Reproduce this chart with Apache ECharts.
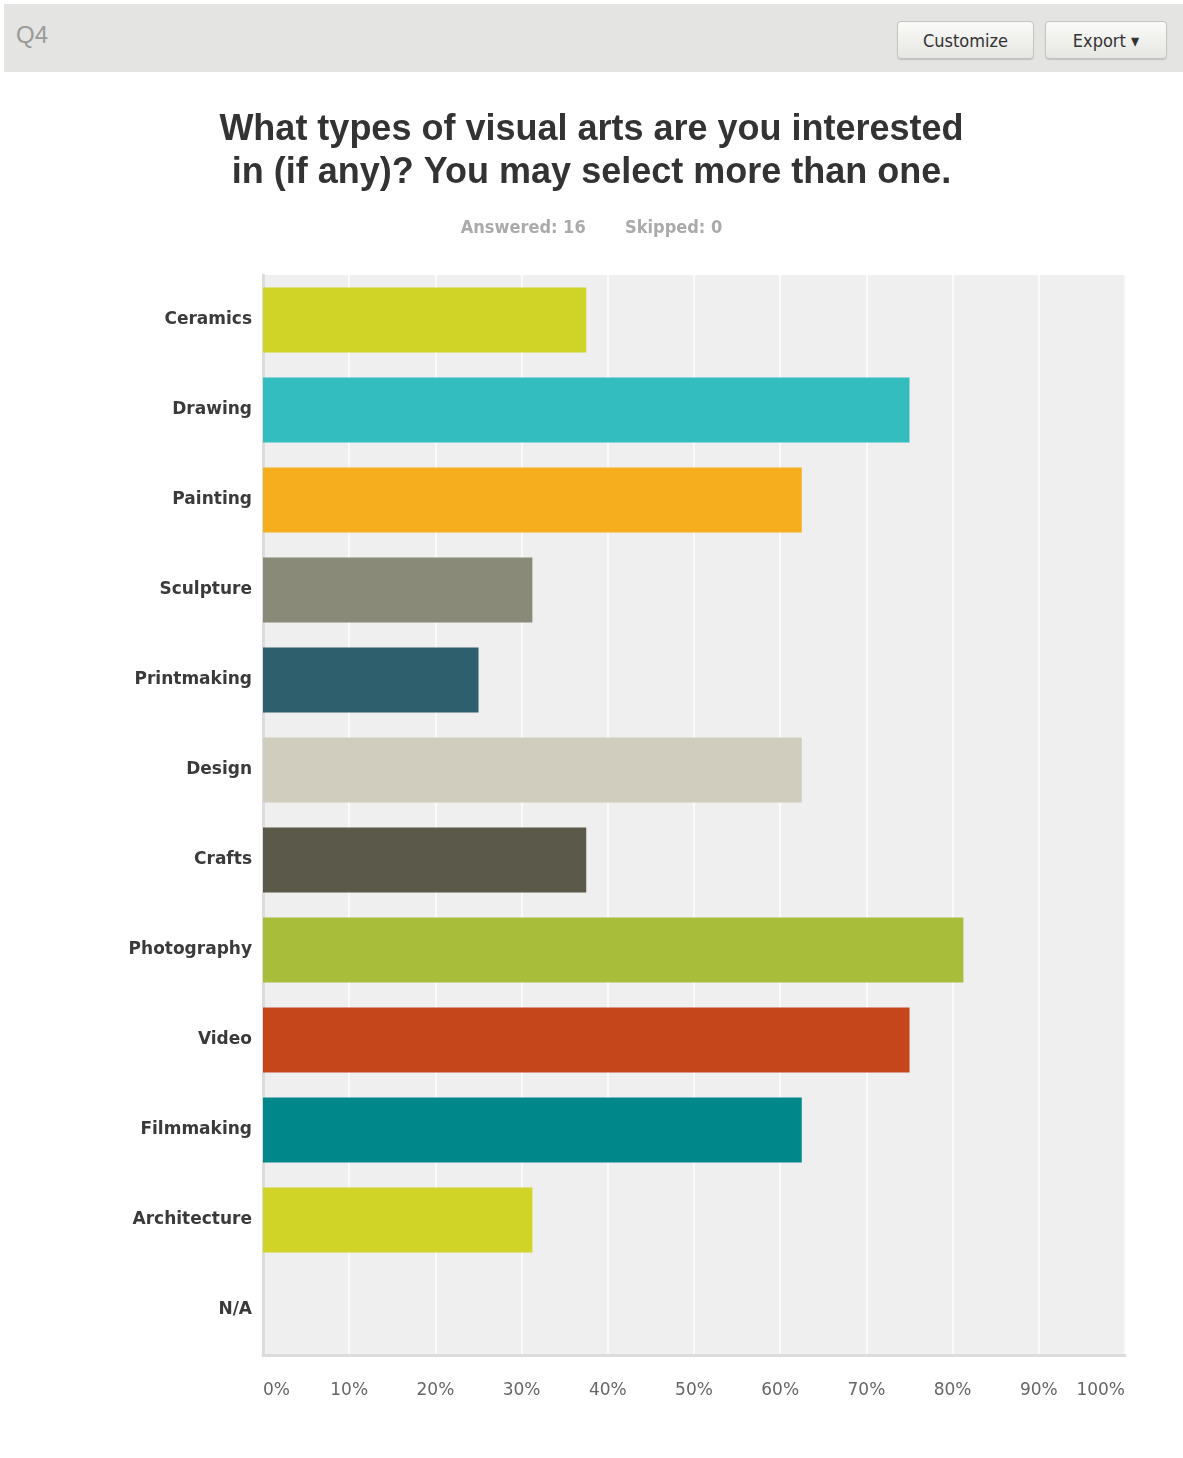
<!DOCTYPE html>
<html>
<head>
<meta charset="utf-8">
<script src="https://cdn.jsdelivr.net/npm/echarts@6/dist/echarts.min.js"></script>
<style>
	html, body { margin: 0; padding: 0; background: #fff; }
	#wrap { position: relative; width: 1183px; height: 1458px; }
	#chart { position: absolute; left: 0; top: 0; width: 1183px; height: 1458px; }
	#bar { position: absolute; left: 4px; top: 4px; width: 1179px; height: 68px; background: #e4e4e2; }
	#q { position: absolute; left: 12px; top: 17px; font: 24px "Liberation Sans Narrow", "Liberation Sans", sans-serif; color: #9a9a9a; }
	.btn { position: absolute; top: 17px; height: 36px; border: 1px solid #c4c4c0; border-radius: 4px;
		background: linear-gradient(#fafaf8, #e6e6e2); font: 18px "DejaVu Sans Condensed", "Liberation Sans", sans-serif;
		color: #333; line-height: 38px; text-align: center; box-shadow: 0 1px 1px rgba(0,0,0,0.15); }
</style>
</head>
<body>
<div id="wrap">
	<div id="chart"></div>
	<div id="bar">
		<div id="q">Q4</div>
		<div class="btn" style="left:893px;width:135px;">Customize</div>
		<div class="btn" style="left:1041px;width:120px;">Export &#9662;</div>
	</div>
</div>
<script>
var categories = ['Ceramics', 'Drawing', 'Painting', 'Sculpture', 'Printmaking', 'Design',
	'Crafts', 'Photography', 'Video', 'Filmmaking', 'Architecture', 'N/A'];
var percents = [37.5, 75, 62.5, 31.25, 25, 62.5, 37.5, 81.25, 75, 62.5, 31.25, 0];
var barColors = ['#d0d427', '#33bdbf', '#f6ae1f', '#8a8a79', '#2d5f6c', '#d0cdbf',
	'#5b594a', '#a8bd3a', '#c6461c', '#00878a', '#d0d427', '#cccccc'];
var xTicks = [0, 10, 20, 30, 40, 50, 60, 70, 80, 90, 100];

var myChart = echarts.init(document.getElementById('chart'));

var option = {
	backgroundColor: '#fff',
	animation: false,
	title: [{
		text: 'What types of visual arts are you interested\nin (if any)? You may select more than one.',
		left: 'center',
		top: 104,
		textStyle: {
			fontFamily: 'Liberation Sans',
			fontSize: 36,
			fontWeight: 'bold',
			color: '#333',
			lineHeight: 43
		}
	}, {
		text: 'Answered: 16       Skipped: 0',
		left: 'center',
		top: 214,
		textStyle: {
			fontFamily: 'DejaVu Sans Condensed',
			fontSize: 18,
			fontWeight: 'bold',
			color: '#aaa'
		}
	}],
	grid: {
		left: 263,
		top: 275,
		width: 862,
		height: 1080,
		show: true,
		backgroundColor: '#efefef',
		borderWidth: 0
	},
	xAxis: {
		type: 'value',
		min: 0,
		max: 100,
		interval: 10,
		axisLine: { show: true, lineStyle: { color: '#dcdcdc', width: 3 } },
		axisTick: { show: false },
		splitLine: { show: true, lineStyle: { color: '#fafafa', width: 2 } },
		axisLabel: {
			margin: 27,
			fontFamily: 'DejaVu Sans',
			fontSize: 17,
			color: '#666',
			alignMinLabel: 'left',
			alignMaxLabel: 'right',
			formatter: function (v) { return xTicks.indexOf(v) >= 0 ? v + '%' : ''; }
		}
	},
	yAxis: {
		type: 'category',
		inverse: true,
		data: categories,
		axisLine: { show: true, lineStyle: { color: '#dcdcdc', width: 3 } },
		axisTick: { show: false },
		axisLabel: {
			margin: 11,
			fontFamily: 'DejaVu Sans',
			fontSize: 17,
			fontWeight: 'bold',
			color: '#3a3a3a'
		}
	},
	series: [{
		type: 'bar',
		barWidth: 65,
		data: percents.map(function (v, i) {
			return { value: v, itemStyle: { color: barColors[i] } };
		})
	}]
};

myChart.setOption(option);
</script>
</body>
</html>
